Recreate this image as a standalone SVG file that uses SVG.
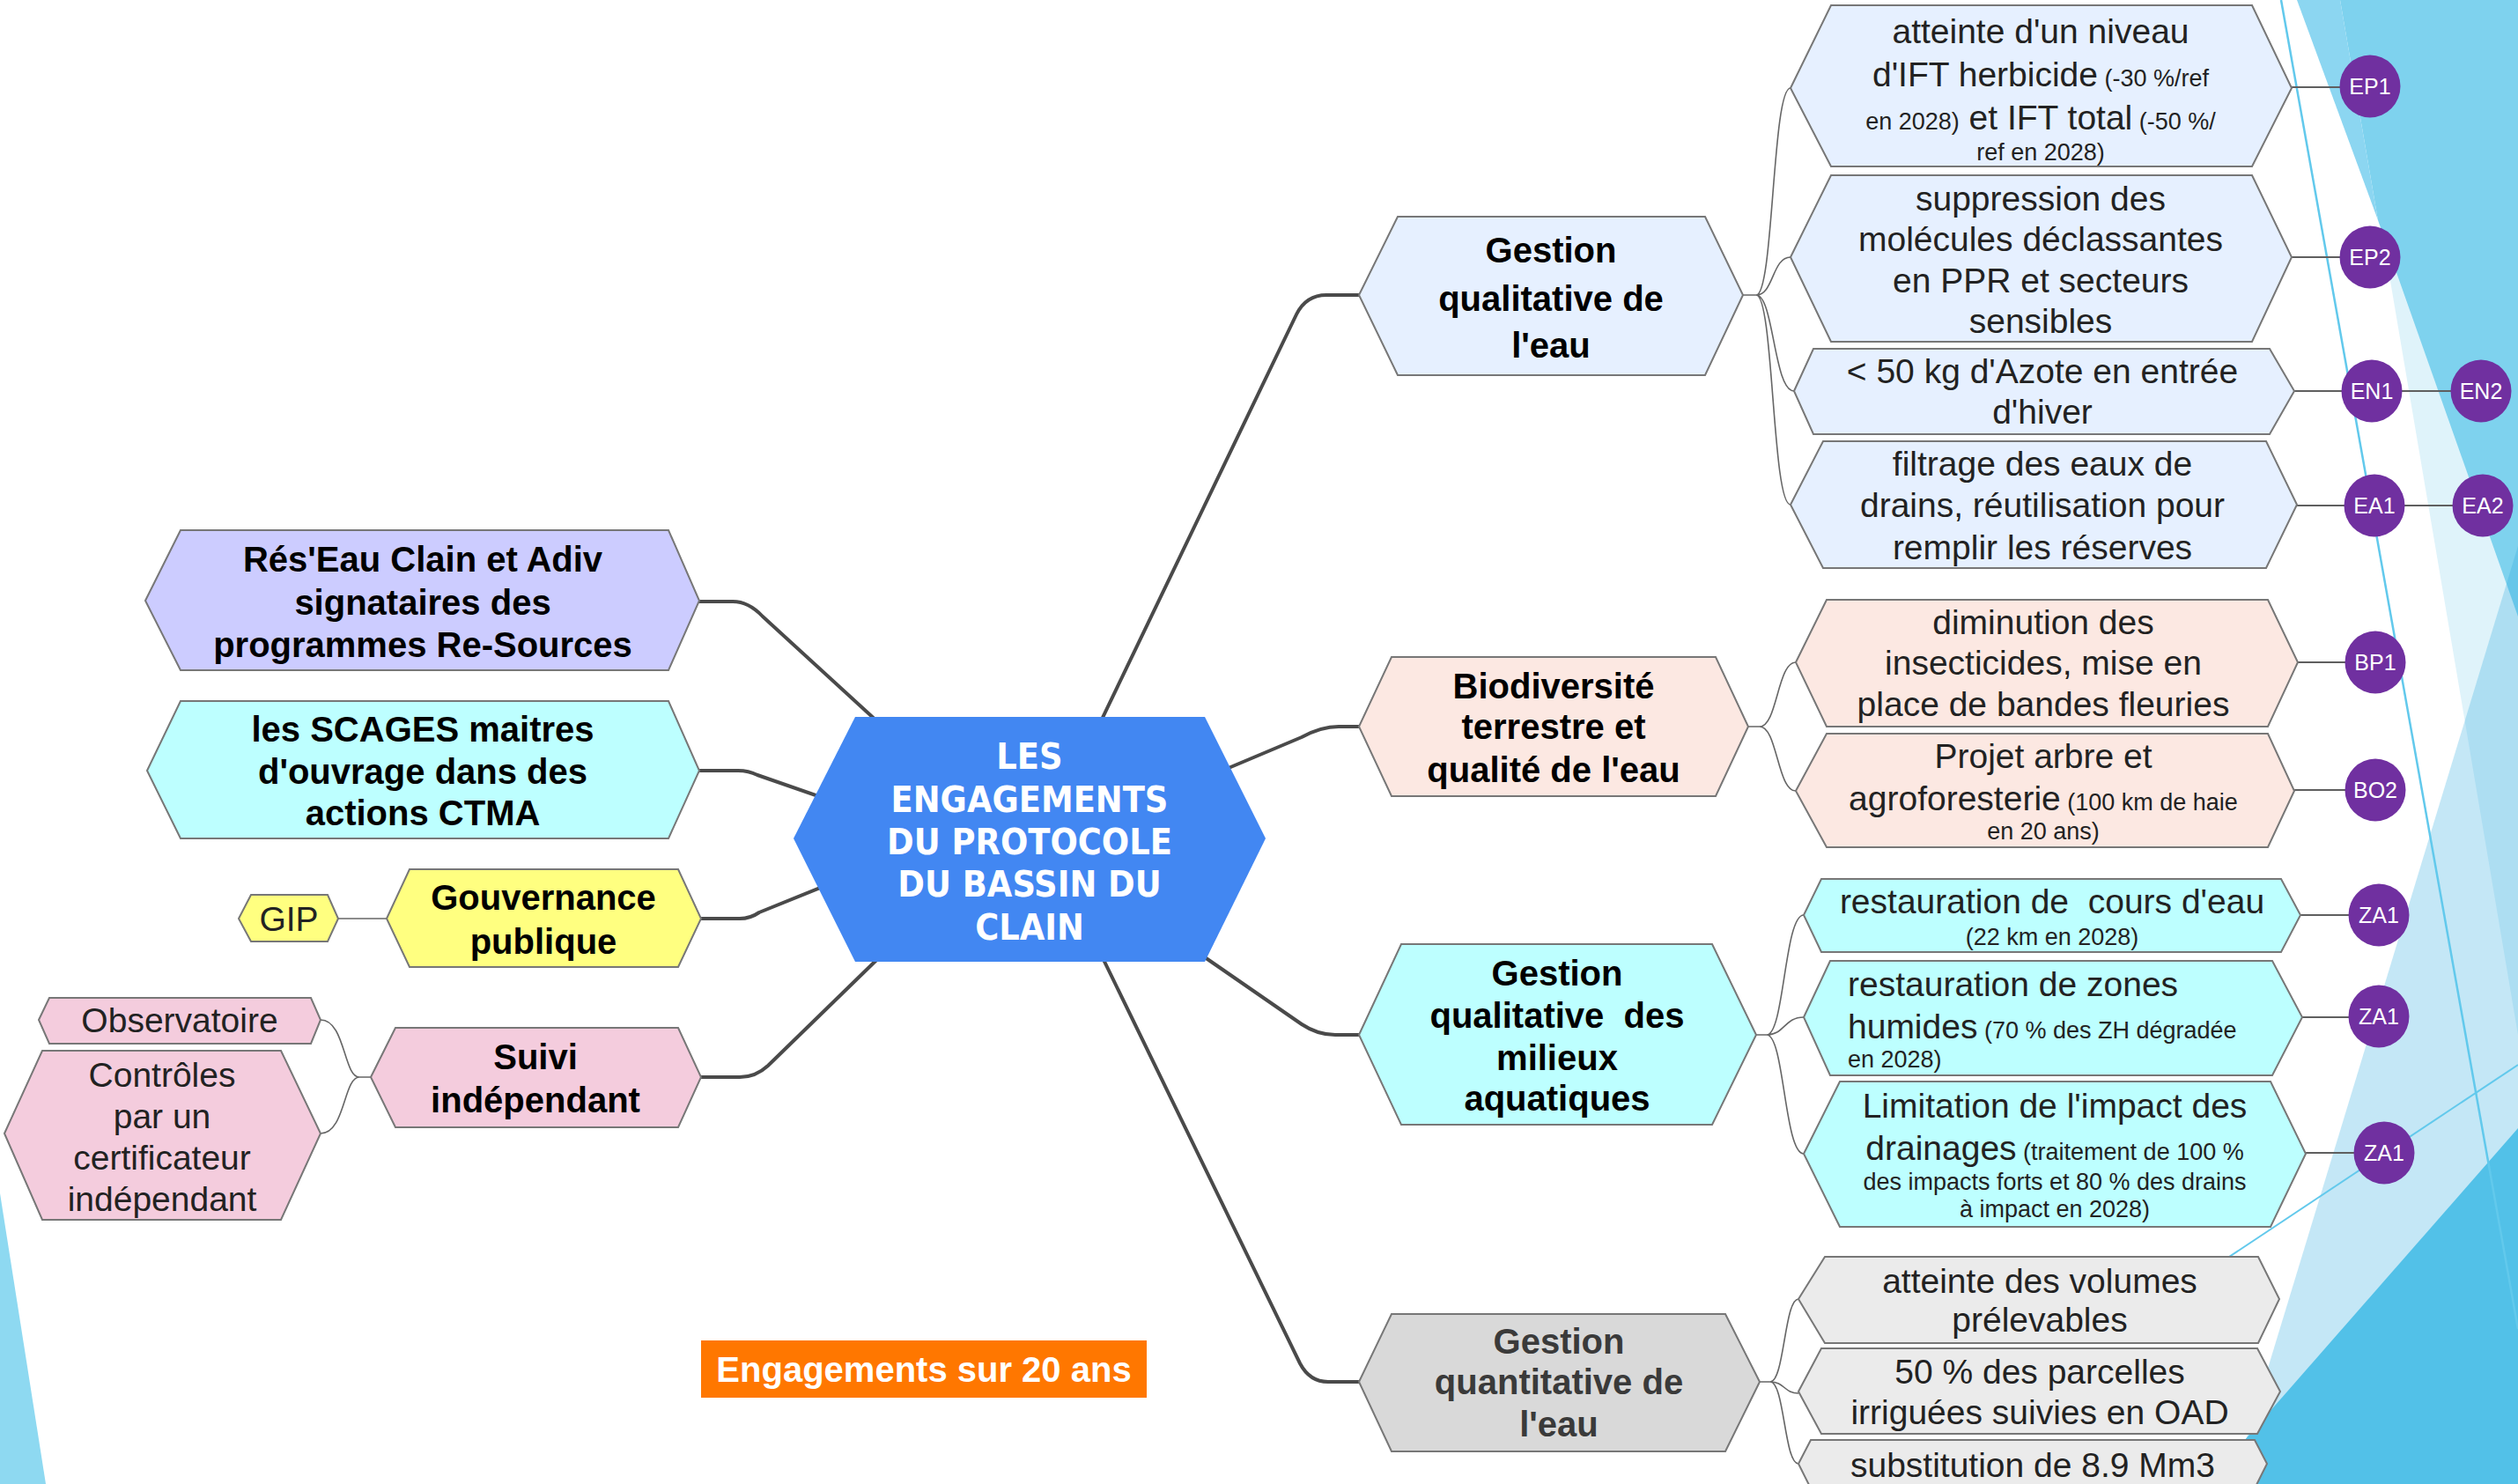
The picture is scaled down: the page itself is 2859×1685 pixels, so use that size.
<svg xmlns="http://www.w3.org/2000/svg" width="2859" height="1685" viewBox="0 0 2859 1685">
<style>
.n{stroke:#777;stroke-width:2}
.t{font-family:"Liberation Sans",Arial,sans-serif;font-size:39px;fill:#222;text-anchor:middle}
.b{font-weight:bold;fill:#000;font-size:40px}
.s{font-size:27px}
.l{text-anchor:start}
.bd{fill:#7030A0}
.bt{font-family:"Liberation Sans",Arial,sans-serif;font-size:25px;fill:#fff;text-anchor:middle}
.main{fill:none;stroke:#4a4a4a;stroke-width:4;stroke-linejoin:round}
.thin{fill:none;stroke:#666;stroke-width:1.6}
.bl{fill:none;stroke:#5f5f5f;stroke-width:1.8}
.ctr{font-family:"DejaVu Sans Condensed","DejaVu Sans",sans-serif;font-stretch:condensed;font-weight:bold;font-size:41px;fill:#fff;text-anchor:middle}
</style>
<rect width="2859" height="1685" fill="#fff"/>
<g id="background">
<polygon fill="#DFF3FA" points="2660,0 2859,0 2859,1175"/>
<polygon fill="#7ED2EE" points="2657,0 2859,0 2859,700 2700,250"/>
<polygon fill="#8CD6F1" points="2608,0 2657,0 2700,250"/>
<polygon fill="#2AA9DD" fill-opacity="0.28" points="2859,620 2859,1685 2535,1685"/>
<polygon fill="#52C1E8" points="2859,1281 2859,1685 2505,1685"/>
<line x1="2590" y1="0" x2="2859" y2="1509" stroke="#62C9EC" stroke-width="2.5"/>
<line x1="2480" y1="1461" x2="2859" y2="1209" stroke="#62C9EC" stroke-width="2"/>
<polygon fill="#8ED9F1" points="0,1355 52,1685 0,1685"/>
</g>
<g id="connectors">
<path class="main" d="M1186 952 L1472 357 Q1483 335 1506 335 L1545 335"/>
<path class="main" d="M1300 912 L1478 837 Q1500 825 1520 825 L1545 825"/>
<path class="main" d="M1300 1040 L1478 1163 Q1496 1175 1516 1175 L1545 1175"/>
<path class="main" d="M1186 952 L1476 1548 Q1487 1569 1508 1569 L1545 1569"/>
<path class="main" d="M1080 896 L866 700 Q850 683 832 683 L792 683"/>
<path class="main" d="M1050 946 L860 880 Q850 875 838 875 L792 875"/>
<path class="main" d="M1050 960 L862 1036 Q852 1043 840 1043 L794 1043"/>
<path class="main" d="M1060 1027 L872 1210 Q858 1223 840 1223 L794 1223"/>
<path class="thin" d="M1979 335 H1994 C2014 335 2012 100 2033 100 M1994 335 C2014 335 2012 292 2033 292 M1994 335 C2014 335 2014 444 2037 444 M1994 335 C2014 335 2012 573 2033 573"/>
<path class="thin" d="M1985 825 H1998 C2018 825 2018 752 2039 752 M1998 825 C2018 825 2018 898 2039 898"/>
<path class="thin" d="M1994 1175 H2006 C2026 1175 2026 1039 2048 1039 M2006 1175 C2026 1175 2026 1155 2048 1155 M2006 1175 C2026 1175 2026 1310 2048 1310"/>
<path class="thin" d="M1998 1569 H2010 C2026 1569 2026 1475 2042 1475 M2010 1569 C2026 1569 2026 1582 2042 1582 M2010 1569 C2026 1569 2026 1662 2042 1662"/>
<path class="thin" d="M421 1223 H408 C390 1223 392 1158 364 1158 M408 1223 C390 1223 392 1287 364 1287"/>
<path class="thin" d="M384 1043 H439"/>
<path class="bl" d="M2602 99 H2670 M2602 292 H2670 M2605 444 H2800 M2608 574 H2800 M2609 752 H2670 M2605 897 H2670 M2612 1039 H2680 M2614 1155 H2680 M2618 1309 H2690"/>
</g>
<g id="n-center">
<polygon fill="#4287F2" points="901,952 971,814 1368,814 1437,952 1368,1092 971,1092"/>
<text class="ctr" x="1169" y="873">LES</text>
<text class="ctr" x="1169" y="922">ENGAGEMENTS</text>
<text class="ctr" x="1169" y="970">DU PROTOCOLE</text>
<text class="ctr" x="1169" y="1018">DU BASSIN DU</text>
<text class="ctr" x="1169" y="1067">CLAIN</text>
</g>
<g id="n-reseau">
<polygon class="n" fill="#CCCCFF" points="165,682 205,602 759,602 794,682 759,761 205,761"/>
<text class="t b" x="480" y="649">Rés'Eau Clain et Adiv</text>
<text class="t b" x="480" y="698">signataires des</text>
<text class="t b" x="480" y="746">programmes Re-Sources</text>
</g>
<g id="n-scages">
<polygon class="n" fill="#BDFFFF" points="167,875 205,796 759,796 794,875 759,952 205,952"/>
<text class="t b" x="480" y="842">les SCAGES maitres</text>
<text class="t b" x="480" y="890">d'ouvrage dans des</text>
<text class="t b" x="480" y="937">actions CTMA</text>
</g>
<g id="n-gouv">
<polygon class="n" fill="#FFFF80" points="439,1043 465,987 770,987 796,1043 770,1098 465,1098"/>
<text class="t b" x="617" y="1033">Gouvernance</text>
<text class="t b" x="617" y="1083">publique</text>
</g>
<g id="n-gip">
<polygon class="n" fill="#FFFF80" points="271,1043 285,1016 372,1016 384,1043 372,1069 285,1069"/>
<text class="t" x="328" y="1057" fill="#000">GIP</text>
</g>
<g id="n-suivi">
<polygon class="n" fill="#F4CCDD" points="421,1223 449,1167 770,1167 796,1223 770,1280 449,1280"/>
<text class="t b" x="608" y="1214">Suivi</text>
<text class="t b" x="608" y="1263">indépendant</text>
</g>
<g id="n-obs">
<polygon class="n" fill="#F4CCDD" points="44,1158 56,1133 353,1133 364,1158 353,1185 56,1185"/>
<text class="t" x="204" y="1172">Observatoire</text>
</g>
<g id="n-controles">
<polygon class="n" fill="#F4CCDD" points="5,1287 48,1193 319,1193 364,1287 319,1385 48,1385"/>
<text class="t" x="184" y="1234">Contrôles</text>
<text class="t" x="184" y="1281">par un</text>
<text class="t" x="184" y="1328">certificateur</text>
<text class="t" x="184" y="1375">indépendant</text>
</g>
<g id="n-engagements">
<rect x="796" y="1522" width="506" height="65" fill="#FF7700"/>
<text class="t b" x="1049" y="1569" fill="#fff" style="fill:#fff">Engagements sur 20 ans</text>
</g>
<g id="n-qualeau">
<polygon class="n" fill="#E6F0FF" points="1543,335 1587,246 1936,246 1979,335 1936,426 1587,426"/>
<text class="t b" x="1761" y="298">Gestion</text>
<text class="t b" x="1761" y="353">qualitative de</text>
<text class="t b" x="1761" y="406">l'eau</text>
</g>
<g id="n-ift">
<polygon class="n" fill="#E6F0FF" points="2033,100 2079,6 2557,6 2602,100 2557,189 2079,189"/>
<text class="t" x="2317" y="49">atteinte d'un niveau</text>
<text class="t" x="2317" y="98">d'IFT herbicide<tspan class="s"> (-30 %/ref</tspan></text>
<text class="t" x="2317" y="147"><tspan class="s">en 2028)</tspan> et IFT total<tspan class="s"> (-50 %/</tspan></text>
<text class="t s" x="2317" y="182">ref en 2028)</text>
</g>
<g id="n-suppression">
<polygon class="n" fill="#E6F0FF" points="2033,292 2079,199 2557,199 2602,292 2557,388 2079,388"/>
<text class="t" x="2317" y="239">suppression des</text>
<text class="t" x="2317" y="285">molécules déclassantes</text>
<text class="t" x="2317" y="332">en PPR et secteurs</text>
<text class="t" x="2317" y="378">sensibles</text>
</g>
<g id="n-azote">
<polygon class="n" fill="#E6F0FF" points="2037,444 2059,396 2577,396 2605,444 2577,493 2059,493"/>
<text class="t" x="2319" y="435">&lt; 50 kg d'Azote en entrée</text>
<text class="t" x="2319" y="481">d'hiver</text>
</g>
<g id="n-filtrage">
<polygon class="n" fill="#E6F0FF" points="2033,573 2070,501 2573,501 2608,573 2573,645 2070,645"/>
<text class="t" x="2319" y="540">filtrage des eaux de</text>
<text class="t" x="2319" y="587">drains, réutilisation pour</text>
<text class="t" x="2319" y="635">remplir les réserves</text>
</g>
<g id="n-biodiv">
<polygon class="n" fill="#FCE8E2" points="1543,825 1580,746 1948,746 1985,825 1948,904 1580,904"/>
<text class="t b" x="1764" y="793">Biodiversité</text>
<text class="t b" x="1764" y="839">terrestre et</text>
<text class="t b" x="1764" y="888">qualité de l'eau</text>
</g>
<g id="n-insect">
<polygon class="n" fill="#FCE8E2" points="2039,752 2074,681 2575,681 2609,752 2575,825 2074,825"/>
<text class="t" x="2320" y="720">diminution des</text>
<text class="t" x="2320" y="766">insecticides, mise en</text>
<text class="t" x="2320" y="813">place de bandes fleuries</text>
</g>
<g id="n-arbre">
<polygon class="n" fill="#FCE8E2" points="2039,898 2074,833 2575,833 2605,898 2575,962 2074,962"/>
<text class="t" x="2320" y="872">Projet arbre et</text>
<text class="t" x="2320" y="920">agroforesterie<tspan class="s"> (100 km de haie</tspan></text>
<text class="t s" x="2320" y="953">en 20 ans)</text>
</g>
<g id="n-milieux">
<polygon class="n" fill="#BDFFFF" points="1543,1175 1591,1072 1944,1072 1994,1175 1944,1277 1591,1277"/>
<text class="t b" x="1768" y="1119">Gestion</text>
<text class="t b" x="1768" y="1167" xml:space="preserve">qualitative  des</text>
<text class="t b" x="1768" y="1215">milieux</text>
<text class="t b" x="1768" y="1261">aquatiques</text>
</g>
<g id="n-cours">
<polygon class="n" fill="#BDFFFF" points="2048,1039 2068,998 2590,998 2612,1039 2590,1081 2068,1081"/>
<text class="t" x="2330" y="1037" xml:space="preserve">restauration de  cours d'eau</text>
<text class="t s" x="2330" y="1073">(22 km en 2028)</text>
</g>
<g id="n-zh">
<polygon class="n" fill="#BDFFFF" points="2048,1155 2078,1091 2580,1091 2614,1155 2580,1221 2078,1221"/>
<text class="t l" x="2098" y="1131">restauration de zones</text>
<text class="t l" x="2098" y="1179">humides<tspan class="s"> (70 % des ZH dégradée</tspan></text>
<text class="t l s" x="2098" y="1212">en 2028)</text>
</g>
<g id="n-drainages">
<polygon class="n" fill="#BDFFFF" points="2048,1310 2089,1228 2578,1228 2618,1310 2578,1393 2089,1393"/>
<text class="t" x="2333" y="1269">Limitation de l'impact des</text>
<text class="t" x="2333" y="1317">drainages<tspan class="s"> (traitement de 100 %</tspan></text>
<text class="t s" x="2333" y="1351">des impacts forts et 80 % des drains</text>
<text class="t s" x="2333" y="1382">à impact en 2028)</text>
</g>
<g id="n-quant">
<polygon class="n" fill="#D9D9D9" points="1543,1569 1580,1492 1959,1492 1998,1569 1959,1648 1580,1648"/>
<text class="t b" x="1770" y="1537" style="fill:#3a3a3a">Gestion</text>
<text class="t b" x="1770" y="1583" style="fill:#3a3a3a">quantitative de</text>
<text class="t b" x="1770" y="1631" style="fill:#3a3a3a">l'eau</text>
</g>
<g id="n-volumes">
<polygon class="n" fill="#EBEBEB" points="2042,1475 2072,1427 2564,1427 2588,1475 2564,1525 2072,1525"/>
<text class="t" x="2316" y="1468">atteinte des volumes</text>
<text class="t" x="2316" y="1512">prélevables</text>
</g>
<g id="n-parcelles">
<polygon class="n" fill="#EBEBEB" points="2042,1580 2068,1531 2563,1531 2589,1580 2563,1628 2068,1628"/>
<text class="t" x="2316" y="1571">50 % des parcelles</text>
<text class="t" x="2316" y="1617">irriguées suivies en OAD</text>
</g>
<g id="n-substitution">
<polygon class="n" fill="#EBEBEB" points="2042,1662 2056,1635 2560,1635 2574,1662 2560,1690 2056,1690"/>
<text class="t" x="2308" y="1677">substitution de 8.9 Mm3</text>
</g>
<g id="badges">
<g id="b-ep1"><ellipse class="bd" cx="2691" cy="98" rx="34.5" ry="35.5"/><text class="bt" x="2691" y="107">EP1</text></g>
<g id="b-ep2"><ellipse class="bd" cx="2691" cy="292" rx="34.5" ry="35.5"/><text class="bt" x="2691" y="301">EP2</text></g>
<g id="b-en1"><ellipse class="bd" cx="2693" cy="444" rx="34.5" ry="35.5"/><text class="bt" x="2693" y="453">EN1</text></g>
<g id="b-en2"><ellipse class="bd" cx="2817" cy="444" rx="34.5" ry="35.5"/><text class="bt" x="2817" y="453">EN2</text></g>
<g id="b-ea1"><ellipse class="bd" cx="2696" cy="574" rx="34.5" ry="35.5"/><text class="bt" x="2696" y="583">EA1</text></g>
<g id="b-ea2"><ellipse class="bd" cx="2819" cy="574" rx="34.5" ry="35.5"/><text class="bt" x="2819" y="583">EA2</text></g>
<g id="b-bp1"><ellipse class="bd" cx="2697" cy="752" rx="34.5" ry="35.5"/><text class="bt" x="2697" y="761">BP1</text></g>
<g id="b-bo2"><ellipse class="bd" cx="2697" cy="897" rx="34.5" ry="35.5"/><text class="bt" x="2697" y="906">BO2</text></g>
<g id="b-za1a"><ellipse class="bd" cx="2701" cy="1039" rx="34.5" ry="35.5"/><text class="bt" x="2701" y="1048">ZA1</text></g>
<g id="b-za1b"><ellipse class="bd" cx="2701" cy="1154" rx="34.5" ry="35.5"/><text class="bt" x="2701" y="1163">ZA1</text></g>
<g id="b-za1c"><ellipse class="bd" cx="2707" cy="1309" rx="34.5" ry="35.5"/><text class="bt" x="2707" y="1318">ZA1</text></g>
</g>
</svg>
